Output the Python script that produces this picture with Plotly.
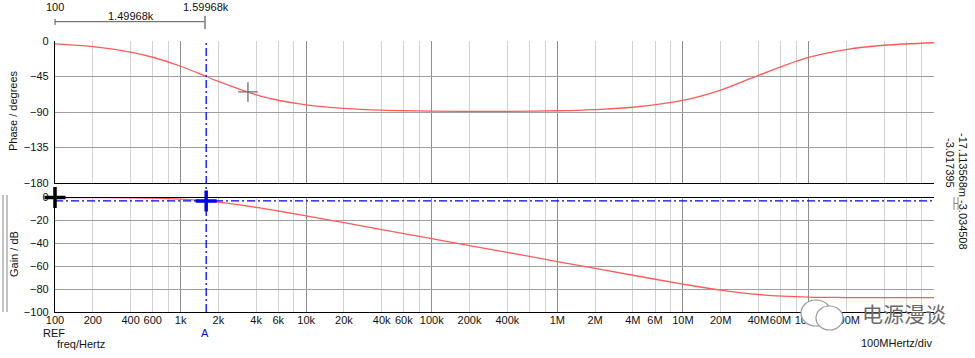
import plotly.graph_objects as go

# ---------------- data ----------------
freq = [100, 200, 400, 600, 1e3, 1.6e3, 2e3, 4e3, 6e3, 1e4, 2e4, 4e4, 1e5, 2e5, 4e5,
        1e6, 2e6, 4e6, 1e7, 2e7, 4e7, 1e8, 2e8, 4e8, 1e9]
phase = [-3.6, -7.1, -14.0, -20.6, -32.0, -45.0, -51.3, -68.2, -75.1, -80.9, -85.4, -87.7,
         -88.9, -89.2, -89.2, -88.4, -86.9, -84.0, -75.3, -62.2, -43.5, -20.8, -10.8, -5.4, -2.2]
gain = [-0.02, -0.07, -0.26, -0.57, -1.43, -3.01, -4.09, -8.60, -11.78, -16.03, -21.97,
        -27.97, -35.92, -41.94, -47.96, -55.92, -61.93, -67.91, -75.63, -80.88, -84.72,
        -86.93, -87.36, -87.49, -87.51]

x_tick_vals = [100, 200, 400, 600, 1e3, 2e3, 4e3, 6e3, 1e4, 2e4, 4e4, 6e4, 1e5, 2e5, 4e5,
               1e6, 2e6, 4e6, 6e6, 1e7, 2e7, 4e7, 6e7, 1e8, 2e8]
x_tick_text = ["100", "200", "400", "600", "1k", "2k", "4k", "6k", "10k", "20k", "40k", "60k",
               "100k", "200k", "400k", "1M", "2M", "4M", "6M", "10M", "20M", "40M", "60M",
               "100M", "200M"]
decades = [1e2, 1e3, 1e4, 1e5, 1e6, 1e7, 1e8, 1e9]
minor_vals = [m * d for d in decades[:-1] for m in (2, 4, 6, 8)]

phase_ticks = [0, -45, -90, -135, -180]
gain_ticks = [0, -20, -40, -60, -80, -100]

ref_freq, ref_gain = 100, 0.0
cursor_freq, cursor_gain = 1599.68, -3.017395
marker2_freq, marker2_phase = 3440, -64.6

# ---------------- layout helpers ----------------
W, H = 975, 358
ML, MR, MT, MB = 55, 41, 41, 46
PW, PH = W - ML - MR, H - MT - MB


def px(x):
    return (x - ML) / PW


def py(y):
    return (H - MB - y) / PH


FONT = "Liberation Sans"
RED = "#ff5b5b"
BLUE = "#0000ff"
MAJ = "#8e8e8e"
MINC = "#d2d2d2"
HGRID = "#a0a0a0"

fig = go.Figure()

fig.add_trace(go.Scatter(x=freq, y=phase, mode="lines", line=dict(color=RED, width=1.3, shape="spline"),
                         xaxis="x", yaxis="y", showlegend=False, hoverinfo="skip"))
fig.add_trace(go.Scatter(x=freq, y=gain, mode="lines", line=dict(color=RED, width=1.3, shape="spline"),
                         xaxis="x2", yaxis="y2", showlegend=False, hoverinfo="skip"))
# invisible trace to carry the labelled overlay axis
fig.add_trace(go.Scatter(x=freq, y=gain, mode="lines", opacity=0, line=dict(width=0),
                         xaxis="x3", yaxis="y2", showlegend=False, hoverinfo="skip"))

# horizontal cursor line (gain at cursor A)
fig.add_trace(go.Scatter(x=[freq[0], freq[-1]], y=[cursor_gain, cursor_gain], mode="lines",
                         line=dict(color=BLUE, width=1.3, dash="8px,3px,2px,3px"),
                         xaxis="x2", yaxis="y2", showlegend=False, hoverinfo="skip"))
# markers
fig.add_trace(go.Scatter(x=[ref_freq], y=[ref_gain], mode="markers", cliponaxis=False,
                         marker=dict(symbol="cross-thin", size=15, line=dict(color="black", width=3.5)),
                         xaxis="x2", yaxis="y2", showlegend=False, hoverinfo="skip"))
fig.add_trace(go.Scatter(x=[cursor_freq], y=[cursor_gain], mode="markers", cliponaxis=False,
                         marker=dict(symbol="cross-thin", size=15, line=dict(color=BLUE, width=3.5)),
                         xaxis="x2", yaxis="y2", showlegend=False, hoverinfo="skip"))
fig.add_trace(go.Scatter(x=[marker2_freq], y=[marker2_phase], mode="markers", cliponaxis=False,
                         marker=dict(symbol="cross-thin", size=14, line=dict(color="#6e6e6e", width=1.3)),
                         xaxis="x", yaxis="y", showlegend=False, hoverinfo="skip"))

tickfont = dict(family=FONT, size=11, color="#111")

xcommon = dict(type="log", range=[2, 9], tickmode="array", tickvals=decades, showticklabels=False,
               ticks="", showgrid=True, gridcolor=MAJ, gridwidth=1.2, zeroline=False,
               showline=True, linecolor="black", linewidth=1.3,
               minor=dict(tickmode="array", tickvals=minor_vals, showgrid=True, gridcolor=MINC,
                          gridwidth=1.2, ticks=""))

fig.update_layout(
    width=W, height=H, margin=dict(l=ML, r=MR, t=MT, b=MB),
    paper_bgcolor="white", plot_bgcolor="white",
    font=dict(family=FONT, size=11, color="#111"),
    xaxis=dict(anchor="y", **xcommon),
    xaxis2=dict(anchor="y2", matches="x", mirror=True, **xcommon),
    xaxis3=dict(type="log", range=[2, 9], overlaying="x2", anchor="y2", side="bottom",
                tickmode="array", tickvals=x_tick_vals, ticktext=x_tick_text, showgrid=False,
                ticks="", zeroline=False, showline=False, tickfont=tickfont, ticklabelstandoff=0,
                tickangle=0),
    yaxis=dict(domain=[py(183), 1], range=[-180, 0], tickmode="array", tickvals=phase_ticks,
               showgrid=True, gridcolor=HGRID, gridwidth=1.3, zeroline=False, ticks="",
               showline=True, linecolor="black", linewidth=1.3, tickfont=tickfont,
               ticklabelstandoff=3, anchor="x"),
    yaxis2=dict(domain=[0, py(197.5)], range=[-100, 0], tickmode="array", tickvals=gain_ticks,
                showgrid=True, gridcolor=HGRID, gridwidth=1.3, zeroline=False, ticks="",
                showline=True, linecolor="black", linewidth=1.3, tickfont=tickfont,
                ticklabelstandoff=3, anchor="x2"),
)

shapes = []
# vertical cursor A across both panes
shapes.append(dict(type="line", xref="x", yref="paper", x0=cursor_freq, x1=cursor_freq, y0=0, y1=1,
                   line=dict(color=BLUE, width=1.3, dash="8px,3px,2px,3px")))
# header bracket
shapes.append(dict(type="line", xref="paper", yref="paper", x0=px(55), x1=px(205), y0=py(21.7), y1=py(21.7),
                   line=dict(color="#555", width=1)))
shapes.append(dict(type="line", xref="paper", yref="paper", x0=px(55), x1=px(55), y0=py(19), y1=py(25),
                   line=dict(color="#555", width=1)))
shapes.append(dict(type="line", xref="paper", yref="paper", x0=px(205), x1=px(205), y0=py(16), y1=py(29),
                   line=dict(color="#999", width=2)))
# double lines at left of gain pane
for xx in (3, 7):
    shapes.append(dict(type="line", xref="paper", yref="paper", x0=px(xx), x1=px(xx), y0=py(195), y1=py(312),
                       line=dict(color="#888", width=1)))
# small H symbol on the right
for xx in (954, 958):
    shapes.append(dict(type="line", xref="paper", yref="paper", x0=px(xx), x1=px(xx), y0=py(197), y1=py(210),
                       line=dict(color="#888", width=1)))
shapes.append(dict(type="line", xref="paper", yref="paper", x0=px(954), x1=px(958), y0=py(203.5), y1=py(203.5),
                   line=dict(color="#888", width=1)))
# watermark bubbles
shapes.append(dict(type="circle", xref="paper", yref="paper", x0=px(801), x1=px(831), y0=py(300), y1=py(326),
                   line=dict(color="#9a9a9a", width=1.2), fillcolor="white", layer="above"))
shapes.append(dict(type="circle", xref="paper", yref="paper", x0=px(816), x1=px(843), y0=py(306), y1=py(330),
                   line=dict(color="#9a9a9a", width=1.2), fillcolor="white", layer="above"))
fig.update_layout(shapes=shapes)


def ann(text, x, y, size=11, color="#111", angle=0, xanchor="center", family=FONT):
    return dict(text=text, x=px(x), y=py(y), xref="paper", yref="paper", showarrow=False,
                xanchor=xanchor, yanchor="middle", textangle=angle,
                font=dict(family=family, size=size, color=color))


annotations = [
    ann("100", 55, 7),
    ann("1.59968k", 206, 7),
    ann("1.49968k", 131, 16),
    ann("REF", 54, 333),
    ann("A", 205, 333, color=BLUE),
    ann("freq/Hertz", 55, 344, xanchor="left"),
    ann("100MHertz/div", 934, 343, xanchor="right"),
    ann("Phase / degrees", 13, 111, size=11, angle=-90),
    ann("Gain / dB", 14, 254, size=11, angle=-90),
    ann("-17.113568m -3.034508", 963, 192, angle=90),
    ann("-3.017395", 950, 163, angle=90),
    ann("电源漫谈", 904, 313, size=21, color="#6a6a6a", family="Noto Sans CJK SC"),
]
fig.update_layout(annotations=annotations)

fig.write_html("out.html")
